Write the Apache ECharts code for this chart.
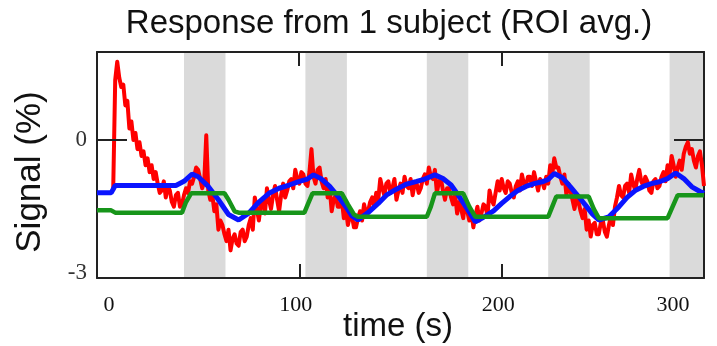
<!DOCTYPE html>
<html><head><meta charset="utf-8">
<script src="https://cdn.jsdelivr.net/npm/echarts@6/dist/echarts.min.js"></script>
<style>html,body{margin:0;padding:0;background:#fff}#c{width:717px;height:346px}</style>
</head><body><div id="c"></div>
<script>
// ---- data ----
const titleText = 'Response from 1 subject (ROI avg.)';
const xTitle = 'time (s)';
const yTitle = 'Signal (%)';
const xTicks = [0, 100, 200, 300];
const yTicks = [-3, 0];
// stimulus blocks (s)
const blockStart = [43, 103, 163, 223, 283];
const blockEnd = [63.5, 123.5, 183.5, 243.5, 303.5];
// measured signal, sampled every 1 s from t = 8 s
const redStart = 8, redStep = 1;
const redValues = [
 -1.10, 1.30, 1.70, 1.35, 1.15, 1.20, 0.75, 0.85, 0.25, 0.40,
 0.00, 0.15, -0.20, -0.05, -0.35, -0.25, -0.55, -0.40, -0.70, -0.55,
 -0.85, -0.70, -0.95, -1.15, -1.10, -0.90, -1.25, -1.00, -1.10, -1.35,
 -1.45, -1.20, -1.15, -1.45, -1.40, -1.20, -1.05, -1.15, -0.90, -0.95,
 -0.80, -0.60, -0.65, -0.85, -1.05, -0.90, 0.10, -1.10, -1.30, -1.20,
 -1.55, -1.40, -1.95, -1.75, -1.85, -2.05, -2.20, -1.95, -2.40, -2.15,
 -2.05, -2.25, -2.30, -2.00, -1.95, -2.20, -2.10, -1.85, -1.70, -1.95,
 -1.25, -1.50, -1.75, -1.40, -1.30, -1.60, -1.05, -1.30, -1.50, -1.20,
 -1.00, -1.30, -1.55, -1.20, -0.95, -1.25, -1.10, -0.90, -0.85, -1.05,
 -0.65, -0.85, -0.95, -0.70, -0.75, -0.95, -1.00, -0.70, -0.20, -0.80,
 -0.95, -0.65, -0.60, -0.90, -1.05, -0.85, -1.25, -1.05, -1.55, -1.30,
 -1.20, -1.45, -1.45, -1.30, -1.70, -1.50, -1.85, -1.65, -1.65, -1.90,
 -1.90, -1.70, -1.55, -1.75, -1.40, -1.60, -1.55, -1.35, -1.25, -1.45,
 -1.15, -1.30, -0.85, -1.05, -1.20, -0.95, -0.90, -1.15, -1.05, -0.85,
 -1.30, -1.10, -0.95, -1.15, -0.80, -1.00, -1.05, -0.85, -1.20, -0.95,
 -0.95, -1.15, -1.05, -0.85, -0.75, -0.95, -0.60, -0.80, -0.85, -0.65,
 -1.15, -0.90, -0.85, -1.10, -1.30, -1.05, -1.05, -1.25, -1.40, -1.20,
 -1.60, -1.35, -1.50, -1.70, -1.30, -1.55, -1.75, -1.55, -1.90, -1.65,
 -1.45, -1.75, -1.60, -1.40, -1.45, -1.65, -1.10, -1.30, -1.40, -1.15,
 -0.90, -1.10, -0.85, -1.05, -1.15, -0.90, -0.95, -1.15, -1.25, -1.00,
 -0.90, -1.10, -0.75, -0.95, -1.00, -0.80, -0.80, -1.00, -0.70, -0.90,
 -1.10, -0.85, -0.90, -1.05, -0.80, -0.95, -0.55, -0.75, -0.40, -0.60,
 -0.60, -0.80, -0.95, -0.75, -1.20, -0.95, -1.10, -1.30, -1.50, -1.25,
 -1.35, -1.55, -1.70, -1.50, -1.95, -1.75, -2.10, -1.85, -1.80, -2.05,
 -2.05, -1.80, -1.75, -2.00, -2.10, -1.85, -1.65, -1.85, -1.45, -1.25,
 -1.00, -1.20, -1.25, -1.00, -0.95, -1.15, -0.75, -0.95, -1.10, -0.85,
 -0.65, -0.90, -1.00, -0.80, -0.90, -1.10, -1.15, -0.90, -0.85, -1.05,
 -1.00, -0.80, -0.70, -0.90, -0.55, -0.75, -0.35, -0.55, -0.80, -0.60,
 -0.45, -0.65, -0.30, -0.15, -0.05, -0.30, -0.20, -0.45, -0.60, -0.35,
 -0.25, -0.55, -1.00
];
// model fit (blue)
const blueT = [0,7,9,39,43,47,50,55,60,65,70,75,80,85,90,95,100,104,107,111,115,119,123,126,129,134,139,143,148,153,158,162,167,171,175,179,183,187,191,196,200,204,208,212,216,220,223,226,230,234,238,242,245,248,253,258,262,266,270,274,278,282,286,290,294,298,300];
const blueV = [-1.15,-1.15,-0.99,-0.99,-0.90,-0.74,-0.80,-1.01,-1.30,-1.62,-1.74,-1.59,-1.35,-1.16,-1.05,-0.98,-0.90,-0.85,-0.76,-0.85,-1.01,-1.22,-1.45,-1.65,-1.74,-1.58,-1.38,-1.20,-1.07,-0.96,-0.90,-0.85,-0.76,-0.84,-0.98,-1.23,-1.50,-1.78,-1.68,-1.54,-1.38,-1.23,-1.10,-1.01,-0.95,-0.91,-0.86,-0.73,-0.82,-1.02,-1.23,-1.45,-1.62,-1.74,-1.67,-1.45,-1.25,-1.10,-1.01,-0.95,-0.91,-0.84,-0.72,-0.84,-1.02,-1.12,-1.16];
// stimulus regressor (green)
const greenT = [0,7,9,42,44,46.5,63,65,68,70,102.5,104.5,106.5,121,124,127,129,163,165,167,181,184,187,223,225,227,243,245.5,248,282,284.5,287,300];
const greenV = [-1.53,-1.53,-1.58,-1.58,-1.35,-1.16,-1.16,-1.30,-1.55,-1.58,-1.58,-1.37,-1.16,-1.16,-1.40,-1.62,-1.67,-1.67,-1.45,-1.16,-1.16,-1.45,-1.67,-1.67,-1.45,-1.23,-1.23,-1.50,-1.70,-1.70,-1.45,-1.20,-1.20];

// ---- build ----
const redData = redValues.map((v, i) => [redStart + i * redStep, v]);
const blueData = blueT.map((t, i) => [t, blueV[i]]);
const greenData = greenT.map((t, i) => [t, greenV[i]]);
const areas = blockStart.map((s, i) => [{xAxis: s}, {xAxis: blockEnd[i]}]);

const axisColor = '#222';
const xMin = xTicks[0], xMax = xTicks[xTicks.length - 1];
const yMin = -3, yMax = 1.91;
const chart = echarts.init(document.getElementById('c'), null, {renderer: 'canvas'});
const serif = 'Liberation Serif';
const mkLine = () => ({show: true, onZero: false, lineStyle: {color: axisColor, width: 2}});
const mkTick = (len) => ({show: true, inside: true, length: len, lineStyle: {color: axisColor, width: 2}});
chart.setOption({
  animation: false,
  grid: {left: 97, right: 13, top: 52, bottom: 68},
  xAxis: [{
    type: 'value', min: xMin, max: xMax, interval: 100, position: 'bottom', z: 1,
    axisLine: mkLine(), axisTick: mkTick(14),
    splitLine: {show: false},
    axisLabel: {
      margin: 16,
      formatter: v => v === xMin ? '{l|' + v + '}' : (v === xMax ? '{r|' + v + '}' : '{m|' + v + '}'),
      rich: {
        l: {fontFamily: serif, fontSize: 22, color: '#111', padding: [0, 0, 0, 24]},
        r: {fontFamily: serif, fontSize: 22, color: '#111', padding: [0, 62, 0, 0]},
        m: {fontFamily: serif, fontSize: 22, color: '#111', padding: [0, 7, 0, 0]}
      }
    }
  }, {
    type: 'value', min: xMin, max: xMax, interval: 100, position: 'top', z: 1,
    axisLine: mkLine(), axisTick: {show: false},
    splitLine: {show: false}, axisLabel: {show: false}
  }],
  yAxis: [{
    type: 'value', min: yMin, max: yMax, interval: 3, position: 'left', z: 1,
    axisLine: mkLine(), axisTick: {show: false},
    splitLine: {show: false},
    axisLabel: {
      margin: 10,
      formatter: v => yTicks.indexOf(v) < 0 ? '' : (v === yTicks[0] ? '{b|' + v + '}' : '{a|' + v + '}'),
      rich: {
        a: {fontFamily: serif, fontSize: 23, color: '#333'},
        b: {fontFamily: serif, fontSize: 23, color: '#333', padding: [0, 0, 10, 0]}
      }
    }
  }, {
    type: 'value', min: yMin, max: yMax, interval: 3, position: 'right', z: 1,
    axisLine: mkLine(), axisTick: mkTick(30),
    splitLine: {show: false}, axisLabel: {show: false}
  }],
  series: [{
    name: 'blocks', type: 'line', data: [], z: 0, silent: true,
    markArea: {silent: true, itemStyle: {color: '#dadada'}, data: areas}
  }, {
    name: 'signal', type: 'line', data: redData, z: 2, showSymbol: false, symbol: 'none',
    lineStyle: {color: '#ff0000', width: 4, join: 'round'}
  }, {
    name: 'fit', type: 'line', data: blueData, z: 3, symbol: 'none',
    lineStyle: {color: '#0a14ff', width: 5}
  }, {
    name: 'stimulus', type: 'line', data: greenData, z: 4, symbol: 'none',
    lineStyle: {color: '#17951a', width: 4.5}
  }]
});

// inward ticks on the top and left edges, placed through the axes' own scales
const toPxX = v => chart.convertToPixel({xAxisIndex: 0}, v);
const toPxY = v => chart.convertToPixel({yAxisIndex: 0}, v);
const plotTop = toPxY(yMax), plotLeft = toPxX(xMin);
const tickStyle = {stroke: axisColor, lineWidth: 2};
const tickGraphics = [];
xTicks.forEach(v => {
  const px = Math.round(toPxX(v));
  tickGraphics.push({type: 'line', z: 5, silent: true, shape: {x1: px, y1: plotTop, x2: px, y2: plotTop + 14}, style: tickStyle});
});
yTicks.concat([yMax]).forEach(v => {
  const py = Math.round(toPxY(v));
  tickGraphics.push({type: 'line', z: 5, silent: true, shape: {x1: plotLeft, y1: py, x2: plotLeft + 30, y2: py}, style: tickStyle});
});
chart.setOption({
  graphic: [{
    type: 'text', x: 389, y: 24, z: 10,
    style: {text: titleText, font: '33px "Liberation Sans"', fill: '#111', textAlign: 'center', textVerticalAlign: 'middle'}
  }, {
    type: 'text', x: 398, y: 327, z: 10,
    style: {text: xTitle, font: '33px "Liberation Sans"', fill: '#111', textAlign: 'center', textVerticalAlign: 'middle'}
  }, {
    type: 'text', x: 30, y: 172, rotation: Math.PI / 2, z: 10,
    style: {text: yTitle, font: '35px "Liberation Sans"', fill: '#111', textAlign: 'center', textVerticalAlign: 'middle'}
  }].concat(tickGraphics)
});
</script>
</body></html>
